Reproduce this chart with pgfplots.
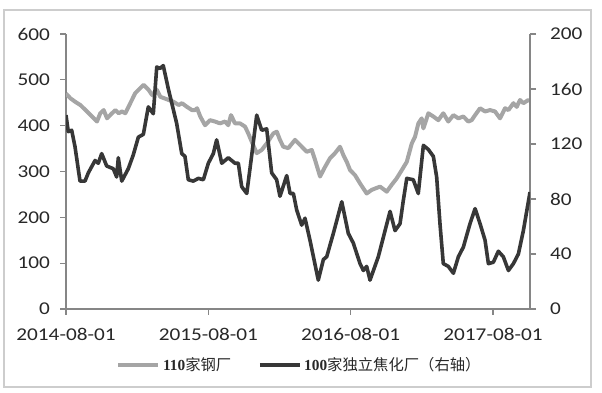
\documentclass[border=0pt]{standalone}
\usepackage{pgfplots}
\pgfplotsset{compat=1.18}
\usepackage{fontspec}
\setmainfont{Carlito}[FakeStretch=1.18]
\newfontfamily\cjk{Noto Sans CJK SC}
\newfontfamily\numfont{Liberation Serif}
\definecolor{grayline}{RGB}{165,165,165}
\definecolor{darkline}{RGB}{55,55,55}
\definecolor{axisgray}{RGB}{134,134,134}
\definecolor{labelgray}{RGB}{40,40,40}
\definecolor{framegray}{RGB}{205,205,205}
\begin{document}
\begin{tikzpicture}
\useasboundingbox (0,0) rectangle (451.5pt,294pt);
\draw[framegray, line width=0.9pt] (3pt,3.75pt) rectangle (443.25pt,286.5pt);
\pgfplotsset{common/.style={
  width=348pt, height=206.25pt, scale only axis,
  at={(49.5pt,62.25pt)}, anchor=south west,
  xmin=0, xmax=39.12, enlargelimits=false,
  /pgf/number format/assume math mode=true,
  tick label style={font=\fontsize{13.5}{15}\selectfont, text=labelgray},
  axis line style={axisgray, line width=0.8pt},
  major tick length=4.5pt,
  tick style={axisgray, line width=0.8pt},
  tick align=outside}}
\begin{axis}[common,
  axis x line*=bottom, axis y line*=left,
  ymin=0, ymax=600, ytick={0,100,...,600},
  yticklabel style={xshift=-4pt},
  xticklabel style={yshift=-6pt},
  xtick={0,12,24,36},
  xticklabels={2014-08-01,2015-08-01,2016-08-01,2017-08-01}]
\addplot[grayline, line width=3pt, line join=round] coordinates {
(0,470)(0.36,460)(0.78,452)(1.21,445)(1.49,438)(1.77,431)(2.19,420)(2.61,409)(2.89,427)(3.18,434)
(3.46,416)(3.88,427)(4.16,434)(4.44,427)(4.72,431)(5.0,427)(5.42,449)(5.84,471)(6.26,482)(6.55,489)
(6.97,478)(7.25,467)(7.67,478)(7.95,463)(8.66,456)(9.08,452)(9.5,445)(9.78,449)(10.2,441)(10.62,434)
(10.88,434)(11.05,438)(11.32,420)(11.72,401)(12.14,412)(12.56,409)(12.98,405)(13.41,409)(13.68,401)
(13.91,423)(14.25,405)(14.67,405)(15.09,398)(15.37,383)(15.66,365)(16.08,340)(16.5,347)(16.92,361)
(17.48,383)(17.77,387)(18.04,369)(18.32,354)(18.74,351)(19.31,369)(19.73,358)(20.3,343)(20.72,347)
(21.0,325)(21.42,289)(21.84,310)(22.26,329)(22.68,340)(23.1,354)(23.38,336)(23.67,321)(23.95,303)
(24.37,292)(24.79,274)(25.35,252)(25.78,260)(26.48,267)(27.04,256)(27.46,271)(27.88,285)(28.31,303)
(28.73,321)(29.15,361)(29.43,376)(29.71,405)(29.99,416)(30.13,394)(30.55,427)(30.97,420)(31.39,412)
(31.81,427)(32.23,409)(32.66,423)(33.08,416)(33.5,420)(33.92,409)(34.2,412)(34.49,423)(34.91,438)
(35.33,431)(35.75,434)(36.17,431)(36.59,416)(37.02,438)(37.3,434)(37.72,449)(38.0,441)(38.28,456)
(38.56,449)(38.98,456)(39.12,454)
};
\end{axis}
\begin{axis}[common,
  axis x line=none, axis y line*=right,
  ymin=0, ymax=200, ytick={0,40,...,200},
  yticklabel style={xshift=7pt},
  legend columns=2,
  legend style={at={(0.504,-0.204)}, anchor=center, draw=none, fill=none,
    font=\fontsize{11.5}{13}\selectfont, text=labelgray,
    /tikz/every even column/.append style={column sep=18pt}},
  legend image code/.code={\draw[#1] (0pt,0pt) -- (30pt,0pt);}]
\addlegendimage{grayline, line width=3pt}
\addlegendentry{{\numfont\bfseries 110}{\cjk 家钢厂}}
\addplot[darkline, line width=2.7pt, line join=round] coordinates {
(0,141)(0.19,129)(0.48,130)(0.76,118)(1.18,93)(1.6,93)(1.88,99)(2.45,108)(2.72,106)(3.01,113)
(3.43,104)(3.99,102)(4.27,96)(4.41,110)(4.7,93)(5.25,102)(5.67,112)(6.1,125)(6.52,127)(6.94,147)
(7.36,142)(7.65,176)(7.93,175)(8.2,177)(8.63,160)(9.05,145)(9.33,135)(9.76,113)(10.03,111)
(10.31,94)(10.73,93)(11.16,95)(11.58,94)(12.0,106)(12.42,113)(12.7,123)(13.13,106)(13.68,110)
(14.25,106)(14.53,106)(14.81,89)(15.24,84)(15.66,112)(16.08,141)(16.5,130)(16.92,131)(17.34,99)
(17.76,94)(18.04,82)(18.61,97)(18.89,84)(19.17,84)(19.45,72)(19.87,61)(20.15,66)(20.57,50)
(21.27,21)(21.7,36)(21.98,38)(22.54,55)(23.25,78)(23.8,55)(24.22,48)(24.79,33)(25.07,28)
(25.35,31)(25.63,21)(26.33,38)(27.32,71)(27.74,57)(28.16,62)(28.44,79)(28.73,95)(29.28,94)
(29.7,84)(30.13,119)(30.55,116)(30.97,111)(31.25,96)(31.53,62)(31.81,33)(32.23,31)(32.66,26)
(33.08,38)(33.5,45)(34.06,62)(34.49,73)(34.91,62)(35.33,50)(35.61,33)(36.03,34)(36.45,42)
(36.87,38)(37.3,28)(37.72,33)(38.14,40)(38.56,57)(39.12,85)
};
\addlegendentry{{\numfont\bfseries 100}{\cjk 家独立焦化厂（右轴）}}
\end{axis}
\end{tikzpicture}
\end{document}
